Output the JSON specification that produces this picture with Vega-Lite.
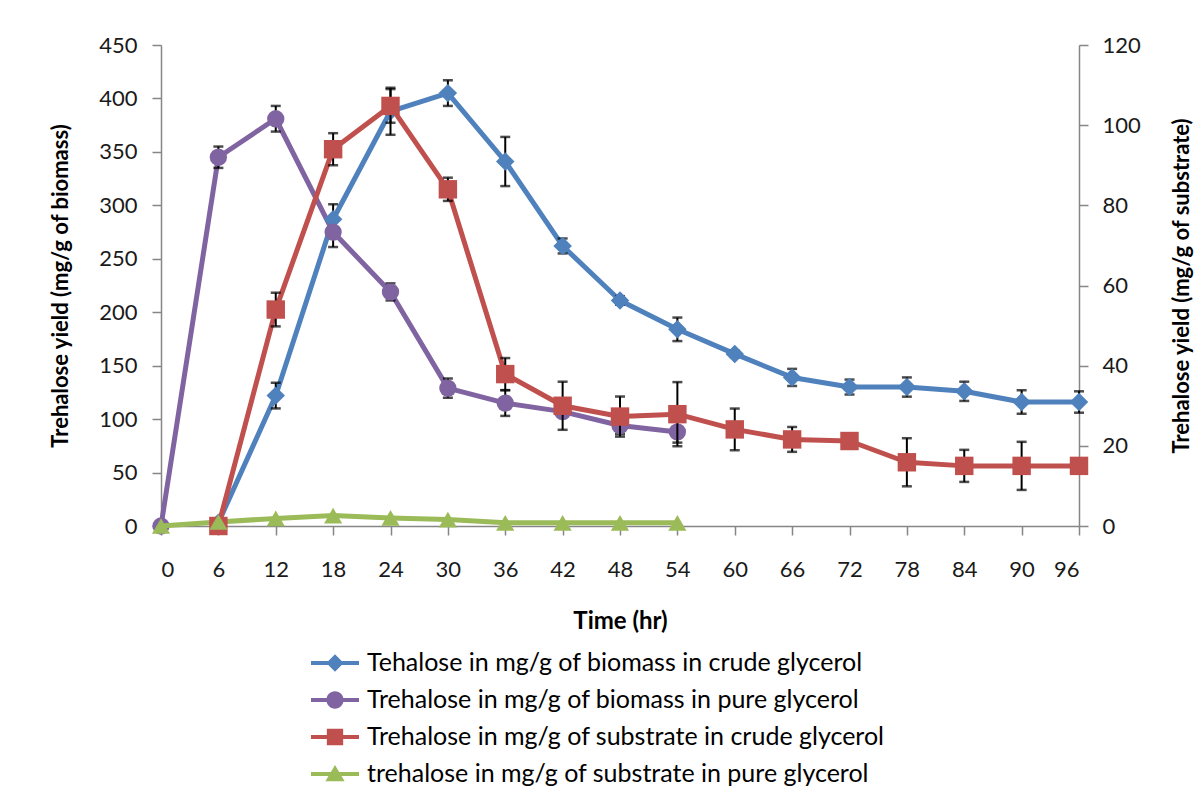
{
  "$schema": "https://vega.github.io/schema/vega-lite/v6.json",
  "width": 918,
  "height": 481,
  "autosize": "none",
  "padding": {"left": 161, "top": 45, "right": 125, "bottom": 281},
  "background": "white",
  "config": {
    "font": "Lato",
    "view": {"stroke": null},
    "axis": {
      "grid": false,
      "domainColor": "#868686",
      "tickColor": "#868686",
      "domainWidth": 1.5,
      "tickWidth": 1.5,
      "labelFont": "Lato",
      "labelFontSize": 22,
      "labelColor": "#1a1a1a",
      "titleFont": "Lato",
      "titleFontSize": 22,
      "titleFontWeight": "bold",
      "titleColor": "#000000"
    }
  },
  "datasets": {
    "left": [
      {"t": 6, "series": "Tehalose in mg/g of biomass in crude glycerol", "v": 3, "err": 0},
      {"t": 12, "series": "Tehalose in mg/g of biomass in crude glycerol", "v": 122, "err": 12},
      {"t": 18, "series": "Tehalose in mg/g of biomass in crude glycerol", "v": 287, "err": 14},
      {"t": 24, "series": "Tehalose in mg/g of biomass in crude glycerol", "v": 388, "err": 22},
      {"t": 30, "series": "Tehalose in mg/g of biomass in crude glycerol", "v": 405, "err": 12},
      {"t": 36, "series": "Tehalose in mg/g of biomass in crude glycerol", "v": 341, "err": 23},
      {"t": 42, "series": "Tehalose in mg/g of biomass in crude glycerol", "v": 262, "err": 7},
      {"t": 48, "series": "Tehalose in mg/g of biomass in crude glycerol", "v": 211, "err": 4},
      {"t": 54, "series": "Tehalose in mg/g of biomass in crude glycerol", "v": 184, "err": 11},
      {"t": 60, "series": "Tehalose in mg/g of biomass in crude glycerol", "v": 161, "err": 3},
      {"t": 66, "series": "Tehalose in mg/g of biomass in crude glycerol", "v": 139, "err": 8},
      {"t": 72, "series": "Tehalose in mg/g of biomass in crude glycerol", "v": 130, "err": 7},
      {"t": 78, "series": "Tehalose in mg/g of biomass in crude glycerol", "v": 130, "err": 9},
      {"t": 84, "series": "Tehalose in mg/g of biomass in crude glycerol", "v": 126, "err": 9},
      {"t": 90, "series": "Tehalose in mg/g of biomass in crude glycerol", "v": 116, "err": 11},
      {"t": 96, "series": "Tehalose in mg/g of biomass in crude glycerol", "v": 116, "err": 10},
      {"t": 0, "series": "Trehalose in mg/g of biomass in pure glycerol", "v": 0, "err": 0},
      {"t": 6, "series": "Trehalose in mg/g of biomass in pure glycerol", "v": 345, "err": 10},
      {"t": 12, "series": "Trehalose in mg/g of biomass in pure glycerol", "v": 381, "err": 12},
      {"t": 18, "series": "Trehalose in mg/g of biomass in pure glycerol", "v": 275, "err": 14},
      {"t": 24, "series": "Trehalose in mg/g of biomass in pure glycerol", "v": 219, "err": 8},
      {"t": 30, "series": "Trehalose in mg/g of biomass in pure glycerol", "v": 129, "err": 9},
      {"t": 36, "series": "Trehalose in mg/g of biomass in pure glycerol", "v": 115, "err": 12},
      {"t": 42, "series": "Trehalose in mg/g of biomass in pure glycerol", "v": 107, "err": 5},
      {"t": 48, "series": "Trehalose in mg/g of biomass in pure glycerol", "v": 94, "err": 8},
      {"t": 54, "series": "Trehalose in mg/g of biomass in pure glycerol", "v": 88, "err": 10}
    ],
    "right": [
      {"t": 6, "series": "Trehalose in mg/g of substrate in crude glycerol", "v": 0, "err": 0},
      {"t": 12, "series": "Trehalose in mg/g of substrate in crude glycerol", "v": 54, "err": 4.2},
      {"t": 18, "series": "Trehalose in mg/g of substrate in crude glycerol", "v": 94, "err": 4},
      {"t": 24, "series": "Trehalose in mg/g of substrate in crude glycerol", "v": 104.8, "err": 4.2},
      {"t": 30, "series": "Trehalose in mg/g of substrate in crude glycerol", "v": 84, "err": 2.9},
      {"t": 36, "series": "Trehalose in mg/g of substrate in crude glycerol", "v": 37.9, "err": 4},
      {"t": 42, "series": "Trehalose in mg/g of substrate in crude glycerol", "v": 30, "err": 6},
      {"t": 48, "series": "Trehalose in mg/g of substrate in crude glycerol", "v": 27.3, "err": 5},
      {"t": 54, "series": "Trehalose in mg/g of substrate in crude glycerol", "v": 27.9, "err": 8},
      {"t": 60, "series": "Trehalose in mg/g of substrate in crude glycerol", "v": 24.1, "err": 5.2},
      {"t": 66, "series": "Trehalose in mg/g of substrate in crude glycerol", "v": 21.6, "err": 3.1},
      {"t": 72, "series": "Trehalose in mg/g of substrate in crude glycerol", "v": 21.2, "err": 0},
      {"t": 78, "series": "Trehalose in mg/g of substrate in crude glycerol", "v": 15.9, "err": 6},
      {"t": 84, "series": "Trehalose in mg/g of substrate in crude glycerol", "v": 15, "err": 4},
      {"t": 90, "series": "Trehalose in mg/g of substrate in crude glycerol", "v": 15, "err": 6},
      {"t": 96, "series": "Trehalose in mg/g of substrate in crude glycerol", "v": 15, "err": 0},
      {"t": 0, "series": "trehalose in mg/g of substrate in pure glycerol", "v": 0, "err": 0},
      {"t": 6, "series": "trehalose in mg/g of substrate in pure glycerol", "v": 1.0, "err": 0},
      {"t": 12, "series": "trehalose in mg/g of substrate in pure glycerol", "v": 1.9, "err": 0},
      {"t": 18, "series": "trehalose in mg/g of substrate in pure glycerol", "v": 2.6, "err": 0},
      {"t": 24, "series": "trehalose in mg/g of substrate in pure glycerol", "v": 2.0, "err": 0},
      {"t": 30, "series": "trehalose in mg/g of substrate in pure glycerol", "v": 1.6, "err": 0},
      {"t": 36, "series": "trehalose in mg/g of substrate in pure glycerol", "v": 0.8, "err": 0},
      {"t": 42, "series": "trehalose in mg/g of substrate in pure glycerol", "v": 0.8, "err": 0},
      {"t": 48, "series": "trehalose in mg/g of substrate in pure glycerol", "v": 0.8, "err": 0},
      {"t": 54, "series": "trehalose in mg/g of substrate in pure glycerol", "v": 0.8, "err": 0}
    ]
  },
  "encoding": {
    "x": {
      "field": "t",
      "type": "quantitative",
      "scale": {"domain": [0, 96], "nice": false, "zero": false},
      "axis": {
        "values": [0, 6, 12, 18, 24, 30, 36, 42, 48, 54, 60, 66, 72, 78, 84, 90, 96],
        "title": "Time (hr)",
        "titleFontSize": 24,
        "tickSize": 9,
        "labelPadding": 24,
        "titlePadding": 29
      }
    },
    "color": {
      "field": "series",
      "type": "nominal",
      "scale": {
        "domain": [
          "Tehalose in mg/g of biomass in crude glycerol",
          "Trehalose in mg/g of biomass in pure glycerol",
          "Trehalose in mg/g of substrate in crude glycerol",
          "trehalose in mg/g of substrate in pure glycerol"
        ],
        "range": ["#4F81BD", "#8064A2", "#C0504D", "#9BBB59"]
      },
      "legend": {
        "orient": "none",
        "legendX": 150,
        "legendY": 594,
        "title": null,
        "labelFont": "Lato",
        "labelFontSize": 25,
        "labelColor": "#000000",
        "labelLimit": 0,
        "labelOffset": 8,
        "symbolSize": 2304,
        "rowPadding": 0,
        "encode": {
          "symbols": {
            "update": {
              "shape": {"signal": "datum.index == 0 ? 'M-1,-0.085H1V0.085H-1Z M0,-0.36L0.36,0L0,0.36L-0.36,0Z' : datum.index == 1 ? 'M-1,-0.085H1V0.085H-1Z M-0.36,0A0.36,0.36 0 1,1 0.36,0A0.36,0.36 0 1,1 -0.36,0Z' : datum.index == 2 ? 'M-1,-0.085H1V0.085H-1Z M-0.34,-0.34H0.34V0.34H-0.34Z' : 'M-1,-0.085H1V0.085H-1Z M0,-0.38L0.4,0.3H-0.4Z'"},
              "fill": {"scale": "color", "field": "value"},
              "fillOpacity": {"value": 1},
              "opacity": {"value": 1},
              "strokeWidth": {"value": 0}
            }
          }
        }
      }
    }
  },
  "layer": [
    {
      "data": {"name": "left"},
      "encoding": {
        "y": {
          "field": "v",
          "type": "quantitative",
          "scale": {"domain": [0, 450], "nice": false},
          "axis": {
            "orient": "left",
            "values": [0, 50, 100, 150, 200, 250, 300, 350, 400, 450],
            "title": "Trehalose yield  (mg/g of biomass)",
            "tickSize": 9,
            "labelPadding": 15,
            "titlePadding": 26
          }
        }
      },
      "layer": [
        {
          "mark": {"type": "line", "strokeWidth": 5, "strokeJoin": "round"}
        },
        {
          "transform": [{"filter": "datum.err > 0"}],
          "mark": {
            "type": "errorbar",
            "color": "#000000",
            "thickness": 2,
            "ticks": {"size": 10, "thickness": 2.5, "color": "#000000"}
          },
          "encoding": {
            "y": {"field": "v", "type": "quantitative"},
            "yError": {"field": "err"},
            "color": {"value": "#000000"}
          }
        },
        {
          "mark": {"type": "point", "filled": true, "opacity": 1},
          "encoding": {
            "shape": {
              "field": "series",
              "type": "nominal",
              "scale": {
                "domain": [
                  "Tehalose in mg/g of biomass in crude glycerol",
                  "Trehalose in mg/g of biomass in pure glycerol"
                ],
                "range": ["diamond", "circle"]
              },
              "legend": null
            },
            "size": {
              "field": "series",
              "type": "nominal",
              "scale": {
                "domain": [
                  "Tehalose in mg/g of biomass in crude glycerol",
                  "Trehalose in mg/g of biomass in pure glycerol"
                ],
                "range": [340, 300]
              },
              "legend": null
            }
          }
        }
      ]
    },
    {
      "data": {"name": "right"},
      "encoding": {
        "y": {
          "field": "v",
          "type": "quantitative",
          "scale": {"domain": [0, 120], "nice": false},
          "axis": {
            "orient": "right",
            "values": [0, 20, 40, 60, 80, 100, 120],
            "title": "Trehalose yield  (mg/g of substrate)",
            "titleAngle": 270,
            "titleBaseline": "top",
            "tickSize": 9,
            "labelPadding": 14,
            "titlePadding": 31
          }
        }
      },
      "layer": [
        {
          "mark": {"type": "line", "strokeWidth": 5, "strokeJoin": "round"}
        },
        {
          "transform": [{"filter": "datum.err > 0"}],
          "mark": {
            "type": "errorbar",
            "color": "#000000",
            "thickness": 2,
            "ticks": {"size": 10, "thickness": 2.5, "color": "#000000"}
          },
          "encoding": {
            "y": {"field": "v", "type": "quantitative"},
            "yError": {"field": "err"},
            "color": {"value": "#000000"}
          }
        },
        {
          "mark": {"type": "point", "filled": true, "opacity": 1},
          "encoding": {
            "shape": {
              "field": "series",
              "type": "nominal",
              "scale": {
                "domain": [
                  "Trehalose in mg/g of substrate in crude glycerol",
                  "trehalose in mg/g of substrate in pure glycerol"
                ],
                "range": ["square", "triangle-up"]
              },
              "legend": null
            },
            "size": {
              "field": "series",
              "type": "nominal",
              "scale": {
                "domain": [
                  "Trehalose in mg/g of substrate in crude glycerol",
                  "trehalose in mg/g of substrate in pure glycerol"
                ],
                "range": [340, 330]
              },
              "legend": null
            }
          }
        }
      ],
      "resolve": {"scale": {"shape": "independent", "size": "independent"}}
    }
  ],
  "resolve": {"scale": {"y": "independent", "shape": "independent", "size": "independent"}}
}
